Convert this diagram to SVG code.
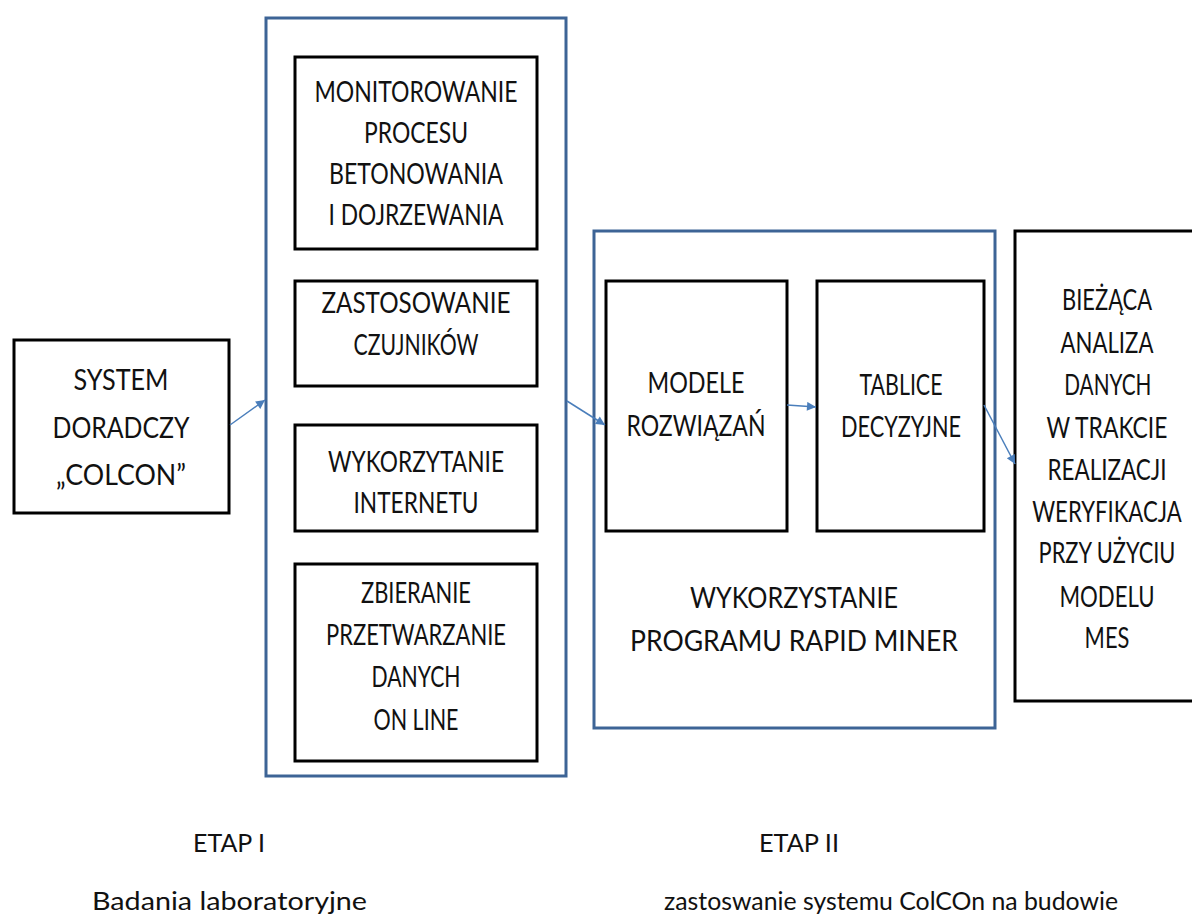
<svg xmlns="http://www.w3.org/2000/svg" width="1192" height="921" viewBox="0 0 1192 921">
<style>
.bk{fill:#fff;stroke:#000;stroke-width:3}
.bl{fill:#fff;stroke:#3d6496;stroke-width:3}
.t{font-family:Lato,"Open Sans",sans-serif;font-size:28px;fill:#111;text-anchor:middle}
.b{font-family:Lato,"Open Sans",sans-serif;font-size:25px;fill:#111}
.c{stroke:#4a7ebb;stroke-width:1.5;fill:none;marker-end:url(#ah)}
</style>
<defs>
<marker id="ah" viewBox="0 0 10 10" refX="10" refY="5" markerWidth="11" markerHeight="9" markerUnits="userSpaceOnUse" orient="auto">
<path d="M0,0 L10,5 L0,10 z" fill="#4a7ebb"/>
</marker>
</defs>
<rect width="1192" height="921" fill="#fff"/>

<g id="etap1">
<rect class="bl" x="266" y="18" width="300" height="758"/>
</g>
<g id="etap2">
<rect class="bl" x="594" y="231" width="401" height="497"/>
<text class="t" x="794" y="608" textLength="208" lengthAdjust="spacingAndGlyphs">WYKORZYSTANIE</text>
<text class="t" x="794" y="651" textLength="328" lengthAdjust="spacingAndGlyphs">PROGRAMU RAPID MINER</text>
</g>

<g id="system">
<rect class="bk" x="14" y="340" width="215" height="173"/>
<text class="t" x="121" y="390" textLength="95" lengthAdjust="spacingAndGlyphs">SYSTEM</text>
<text class="t" x="121" y="438" textLength="137" lengthAdjust="spacingAndGlyphs">DORADCZY</text>
<text class="t" x="121" y="485" textLength="130" lengthAdjust="spacingAndGlyphs">„COLCON”</text>
</g>

<g id="monitorowanie">
<rect class="bk" x="295" y="57" width="242" height="192"/>
<text class="t" x="416" y="102" textLength="203" lengthAdjust="spacingAndGlyphs">MONITOROWANIE</text>
<text class="t" x="416" y="143" textLength="104" lengthAdjust="spacingAndGlyphs">PROCESU</text>
<text class="t" x="416" y="184" textLength="174" lengthAdjust="spacingAndGlyphs">BETONOWANIA</text>
<text class="t" x="416" y="225" textLength="175" lengthAdjust="spacingAndGlyphs">I DOJRZEWANIA</text>
</g>

<g id="zastosowanie">
<rect class="bk" x="295" y="281" width="242" height="105"/>
<text class="t" x="416" y="313" textLength="189" lengthAdjust="spacingAndGlyphs">ZASTOSOWANIE</text>
<text class="t" x="416" y="355" textLength="125" lengthAdjust="spacingAndGlyphs">CZUJNIKÓW</text>
</g>

<g id="wykorzytanie">
<rect class="bk" x="295" y="425" width="242" height="106"/>
<text class="t" x="416" y="472" textLength="176" lengthAdjust="spacingAndGlyphs">WYKORZYTANIE</text>
<text class="t" x="416" y="513" textLength="125" lengthAdjust="spacingAndGlyphs">INTERNETU</text>
</g>

<g id="zbieranie">
<rect class="bk" x="295" y="564" width="242" height="197"/>
<text class="t" x="416" y="603" textLength="110" lengthAdjust="spacingAndGlyphs">ZBIERANIE</text>
<text class="t" x="416" y="645" textLength="180" lengthAdjust="spacingAndGlyphs">PRZETWARZANIE</text>
<text class="t" x="416" y="687" textLength="89" lengthAdjust="spacingAndGlyphs">DANYCH</text>
<text class="t" x="416" y="730" textLength="85" lengthAdjust="spacingAndGlyphs">ON LINE</text>
</g>

<g id="modele">
<rect class="bk" x="606" y="281" width="181" height="250"/>
<text class="t" x="696" y="393" textLength="97" lengthAdjust="spacingAndGlyphs">MODELE</text>
<text class="t" x="696" y="436" textLength="139" lengthAdjust="spacingAndGlyphs">ROZWIĄZAŃ</text>
</g>

<g id="tablice">
<rect class="bk" x="817" y="281" width="167" height="250"/>
<text class="t" x="901" y="395" textLength="83" lengthAdjust="spacingAndGlyphs">TABLICE</text>
<text class="t" x="901" y="437" textLength="120" lengthAdjust="spacingAndGlyphs">DECYZYJNE</text>
</g>

<g id="biezaca">
<rect class="bk" x="1015" y="231" width="190" height="470"/>
<g transform="translate(1107 0) scale(0.8 1)">
<text class="t" x="0" y="310" textLength="112.5" lengthAdjust="spacingAndGlyphs">BIEŻĄCA</text>
<text class="t" x="0" y="353" textLength="116" lengthAdjust="spacingAndGlyphs">ANALIZA</text>
<text class="t" x="1" y="395" textLength="109" lengthAdjust="spacingAndGlyphs">DANYCH</text>
<text class="t" x="0" y="438" textLength="151" lengthAdjust="spacingAndGlyphs">W TRAKCIE</text>
<text class="t" x="0" y="480" textLength="149" lengthAdjust="spacingAndGlyphs">REALIZACJI</text>
<text class="t" x="0" y="522" textLength="187" lengthAdjust="spacingAndGlyphs">WERYFIKACJA</text>
<text class="t" x="0" y="563" textLength="171" lengthAdjust="spacingAndGlyphs">PRZY UŻYCIU</text>
<text class="t" x="0" y="607" textLength="119" lengthAdjust="spacingAndGlyphs">MODELU</text>
<text class="t" x="0" y="648" textLength="56" lengthAdjust="spacingAndGlyphs">MES</text>
</g>
</g>

<g id="connectors">
<line class="c" x1="230" y1="425" x2="265" y2="400"/>
<line class="c" x1="567" y1="401" x2="605" y2="425"/>
<line class="c" x1="787" y1="405" x2="816" y2="407"/>
<line class="c" x1="984" y1="405" x2="1015" y2="464"/>
</g>

<g id="labels">
<text class="b" x="193" y="852" textLength="72" lengthAdjust="spacingAndGlyphs">ETAP I</text>
<text class="b" x="92" y="910" textLength="275" lengthAdjust="spacingAndGlyphs">Badania laboratoryjne</text>
<text class="b" x="759" y="852" textLength="80" lengthAdjust="spacingAndGlyphs">ETAP II</text>
<text class="b" x="664" y="910" textLength="454" lengthAdjust="spacingAndGlyphs">zastoswanie systemu ColCOn na budowie</text>
</g>
</svg>
